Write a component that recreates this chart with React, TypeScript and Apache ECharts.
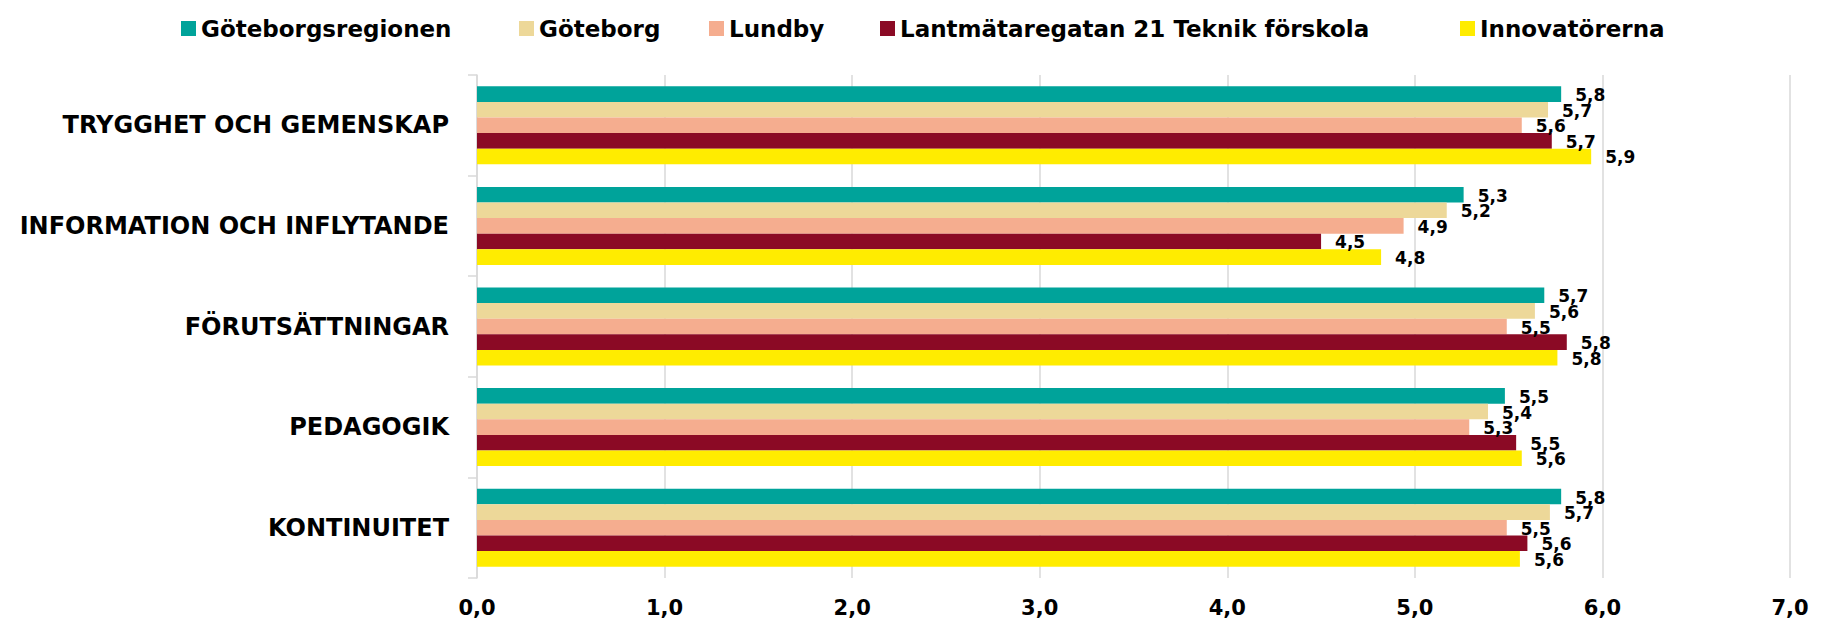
import React, { useEffect, useRef } from "react";
import * as echarts from "echarts";

const categories = [
  "TRYGGHET OCH GEMENSKAP",
  "INFORMATION OCH INFLYTANDE",
  "FÖRUTSÄTTNINGAR",
  "PEDAGOGIK",
  "KONTINUITET",
];

const seriesNames = [
  "Göteborgsregionen",
  "Göteborg",
  "Lundby",
  "Lantmätaregatan 21 Teknik förskola",
  "Innovatörerna",
];

const goteborgsregionen = [5.78, 5.26, 5.69, 5.48, 5.78];
const goteborg = [5.71, 5.17, 5.64, 5.39, 5.72];
const lundby = [5.57, 4.94, 5.49, 5.29, 5.49];
const lantmataregatan = [5.73, 4.5, 5.81, 5.54, 5.6];
const innovatorerna = [5.94, 4.82, 5.76, 5.57, 5.56];

const seriesValues = [goteborgsregionen, goteborg, lundby, lantmataregatan, innovatorerna];
const colors = ["#00A39A", "#EDD899", "#F5AD8F", "#8B0A25", "#FFEC00"];
const legendLefts = [176, 514, 704, 875, 1455];

const fmt = (v: number) => v.toFixed(1).replace(".", ",");

export default function App() {
  const ref = useRef<HTMLDivElement>(null);
  useEffect(() => {
    if (!ref.current) return;
    const chart = echarts.init(ref.current, undefined, { renderer: "svg" });
    const font = "DejaVu Sans";
    chart.setOption({
      animation: false,
      backgroundColor: "#ffffff",
      legend: seriesNames.map((n, i) => ({
        data: [n],
        left: legendLefts[i],
        top: 12,
        itemWidth: 15,
        itemHeight: 15,
        icon: "rect",
        textStyle: { fontFamily: font, fontWeight: "bold", fontSize: 23, color: "#000" },
      })),
      grid: { left: 477, right: 37, top: 75, bottom: 42, containLabel: false },
      xAxis: {
        type: "value",
        min: 0,
        max: 7,
        interval: 1,
        axisLine: { show: false },
        axisTick: { show: false },
        splitLine: { show: true, lineStyle: { color: "#D9D9D9", width: 1.5 } },
        axisLabel: {
          formatter: (v: number) => fmt(v),
          fontFamily: font,
          fontWeight: "bold",
          fontSize: 21,
          color: "#000",
          margin: 19,
        },
      },
      yAxis: {
        type: "category",
        inverse: true,
        data: categories,
        axisLine: { show: true, lineStyle: { color: "#D9D9D9", width: 1.5 } },
        axisTick: { show: true, length: 9, lineStyle: { color: "#D9D9D9", width: 1.5 } },
        axisLabel: {
          fontFamily: font,
          fontWeight: "bold",
          fontSize: 24,
          color: "#000",
          margin: 28,
        },
      },
      series: seriesNames.map((n, i) => ({
        name: n,
        type: "bar",
        data: seriesValues[i],
        barCategoryGap: "22.5%",
        barGap: "0%",
        itemStyle: { color: colors[i] },
        label: {
          show: true,
          position: "right",
          distance: 14,
          offset: [0, 1],
          formatter: (p: any) => fmt(p.value),
          fontFamily: font,
          fontWeight: "bold",
          fontSize: 17,
          color: "#000",
        },
      })),
    });
    return () => chart.dispose();
  }, []);
  return (
    <div
      ref={ref}
      style={{ position: "fixed", left: 0, top: 0, width: 1827, height: 620 }}
    />
  );
}
